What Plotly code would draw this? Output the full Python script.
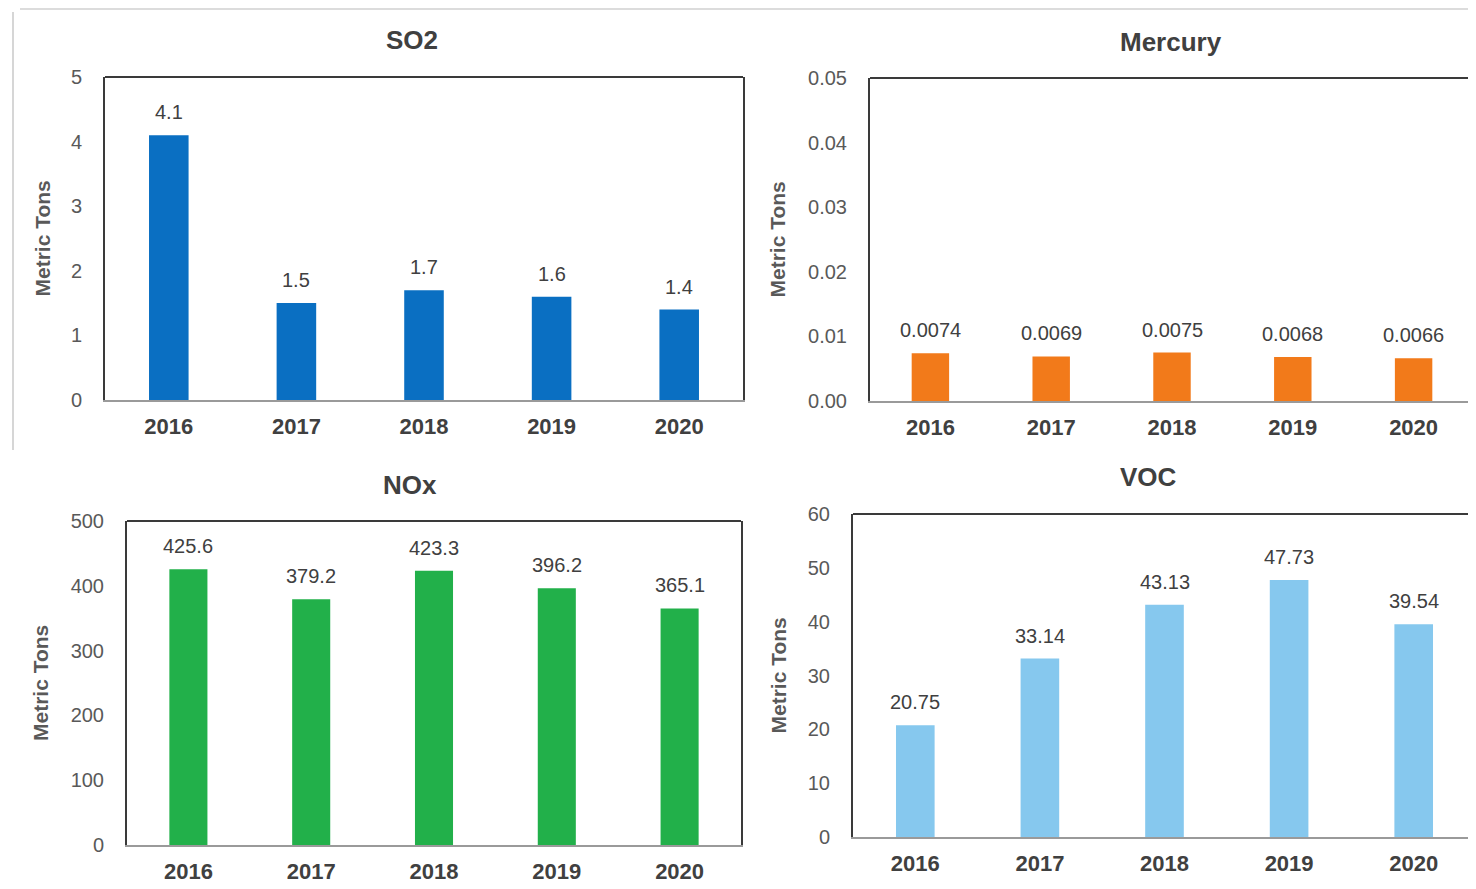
import plotly.graph_objects as go

years = ["2016", "2017", "2018", "2019", "2020"]
so2 = [4.1, 1.5, 1.7, 1.6, 1.4]
mercury = [0.0074, 0.0069, 0.0075, 0.0068, 0.0066]
nox = [425.6, 379.2, 423.3, 396.2, 365.1]
voc = [20.75, 33.14, 43.13, 47.73, 39.54]

so2_labels = ["4.1", "1.5", "1.7", "1.6", "1.4"]
mercury_labels = ["0.0074", "0.0069", "0.0075", "0.0068", "0.0066"]
nox_labels = ["425.6", "379.2", "423.3", "396.2", "365.1"]
voc_labels = ["20.75", "33.14", "43.13", "47.73", "39.54"]

OFF = 8  # page body margin
W, H = 1476 - OFF, 889 - OFF

def px_x(v):
    return max(0.0, min(1.0, (v - OFF) / W))

def px_y(v):
    return max(0.0, min(1.0, 1 - (v - OFF) / H))

panels = [
    dict(name="SO2", vals=so2, labels=so2_labels, color="#0A6FC2", rng=[0, 5], dtick=1, fmt="d",
         xd=[105, 743], yd=[400, 77], title_xy=(412, 40), ytitle_x=42),
    dict(name="Mercury", vals=mercury, labels=mercury_labels, color="#F27A1A", rng=[0, 0.05], dtick=0.01, fmt=".2f",
         xd=[870, 1474], yd=[401, 78], title_xy=(1171, 42), ytitle_x=777),
    dict(name="NOx", vals=nox, labels=nox_labels, color="#22B04A", rng=[0, 500], dtick=100, fmt="d",
         xd=[127, 741], yd=[845, 521], title_xy=(410, 485), ytitle_x=40),
    dict(name="VOC", vals=voc, labels=voc_labels, color="#86C8EE", rng=[0, 60], dtick=10, fmt="d",
         xd=[853, 1478], yd=[837, 514], title_xy=(1148, 477), ytitle_x=778),
]

fig = go.Figure()
font_main = "Liberation Sans, Arial, sans-serif"
annotations = []
shapes = []
layout = {}
for i, p in enumerate(panels, start=1):
    xa = "x" if i == 1 else f"x{i}"
    ya = "y" if i == 1 else f"y{i}"
    fig.add_trace(go.Bar(x=years, y=p["vals"], marker=dict(color=p["color"], line=dict(width=0)),
                         xaxis=xa, yaxis=ya, showlegend=False, hoverinfo="x+y"))
    xkey = "xaxis" if i == 1 else f"xaxis{i}"
    ykey = "yaxis" if i == 1 else f"yaxis{i}"
    layout[xkey] = dict(domain=[px_x(p["xd"][0]), px_x(p["xd"][1])], anchor=ya,
                        type="category", range=[-0.5, len(years) - 0.5], automargin=False,
                        showline=True, linecolor="#9a9a9a", linewidth=2, mirror=False,
                        showgrid=False, ticks="", ticklabelstandoff=6,
                        tickfont=dict(family=font_main, size=22, color="#404040", weight="bold"))
    layout[ykey] = dict(domain=[px_y(p["yd"][0]), px_y(p["yd"][1])], anchor=xa,
                        range=p["rng"], dtick=p["dtick"], tick0=0, tickformat=p["fmt"],
                        automargin=False,
                        showline=True, linecolor="#3a3a3a", linewidth=2, mirror=True,
                        showgrid=False, zeroline=False, ticks="", ticklabelstandoff=17,
                        tickfont=dict(family=font_main, size=20, color="#595959"))
    # top border of the plot box
    shapes.append(dict(type="line", xref=f"{xa} domain", yref=f"{ya} domain",
                       x0=0, x1=1, y0=1, y1=1, line=dict(color="#3a3a3a", width=2)))
    # data labels
    for j, (v, lab) in enumerate(zip(p["vals"], p["labels"])):
        annotations.append(dict(x=j, y=v, xref=xa, yref=ya, text=lab, showarrow=False,
                                yanchor="bottom", yshift=10,
                                font=dict(family=font_main, size=20, color="#404040")))
    # title
    tx, ty = p["title_xy"]
    annotations.append(dict(x=px_x(tx), y=px_y(ty), xref="paper", yref="paper", text=p["name"],
                            showarrow=False, xanchor="center", yanchor="middle",
                            font=dict(family=font_main, size=26, color="#404040", weight="bold")))
    # y-axis title
    yc = (p["yd"][0] + p["yd"][1]) / 2
    annotations.append(dict(x=px_x(p["ytitle_x"]), y=px_y(yc), xref="paper", yref="paper",
                            text="Metric Tons", textangle=-90, showarrow=False,
                            xanchor="center", yanchor="middle",
                            font=dict(family=font_main, size=21, color="#595959", weight="bold")))

shapes += [
    dict(type="line", xref="paper", yref="paper", x0=px_x(20), x1=1, y0=px_y(9), y1=px_y(9),
         line=dict(color="#d0d0d0", width=1.5)),
    dict(type="line", xref="paper", yref="paper", x0=px_x(13), x1=px_x(13), y0=px_y(12), y1=px_y(450),
         line=dict(color="#c8c8c8", width=1.5)),
]

fig.update_layout(template="none", width=W, height=H, margin=dict(l=0, r=0, t=0, b=0, pad=0),
                  paper_bgcolor="white", plot_bgcolor="white",
                  bargap=0.69, annotations=annotations, shapes=shapes, **layout)

fig.write_html("out.html")
